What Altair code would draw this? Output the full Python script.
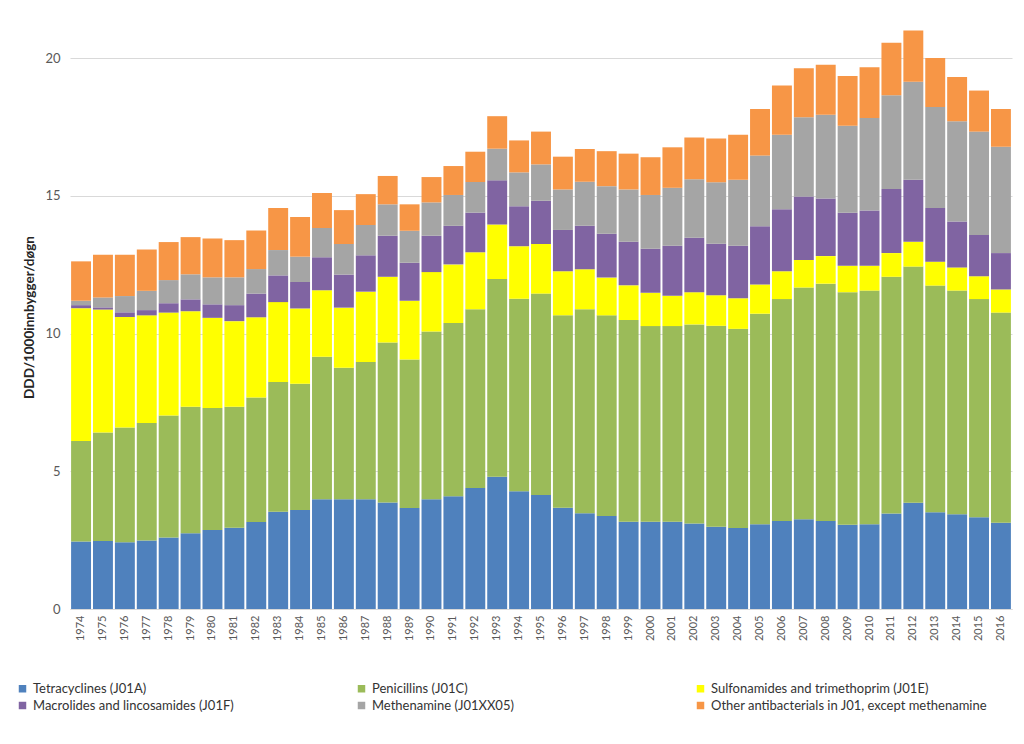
import altair as alt
import pandas as pd

years = list(range(1974, 2017))

tetracyclines = [2.45, 2.47, 2.42, 2.49, 2.60, 2.75, 2.87, 2.95, 3.16, 3.53, 3.59, 3.98, 3.98, 3.98, 3.87,
                 3.67, 3.98, 4.09, 4.39, 4.80, 4.27, 4.14, 3.68, 3.48, 3.38, 3.17, 3.17, 3.17, 3.10, 2.99,
                 2.94, 3.08, 3.19, 3.26, 3.19, 3.06, 3.08, 3.47, 3.86, 3.51, 3.44, 3.33, 3.13]
penicillins = [3.65, 3.94, 4.17, 4.26, 4.42, 4.59, 4.43, 4.39, 4.52, 4.71, 4.59, 5.18, 4.78, 4.99, 5.80,
               5.39, 6.09, 6.29, 6.49, 7.18, 6.99, 7.31, 6.98, 7.40, 7.28, 7.32, 7.10, 7.10, 7.23, 7.29,
               7.23, 7.64, 8.06, 8.41, 8.62, 8.44, 8.48, 8.59, 8.57, 8.23, 8.12, 7.92, 7.63]
sulfonamides = [4.82, 4.46, 4.01, 3.91, 3.74, 3.47, 3.27, 3.11, 2.91, 2.90, 2.73, 2.41, 2.18, 2.55, 2.39,
                2.13, 2.16, 2.13, 2.07, 1.98, 1.91, 1.80, 1.60, 1.45, 1.37, 1.26, 1.21, 1.10, 1.17, 1.11,
                1.11, 1.06, 1.01, 1.00, 1.00, 0.96, 0.90, 0.86, 0.90, 0.87, 0.84, 0.83, 0.84]
macrolides = [0.11, 0.08, 0.17, 0.19, 0.34, 0.43, 0.49, 0.58, 0.86, 0.97, 0.96, 1.20, 1.20, 1.32, 1.49,
              1.38, 1.32, 1.40, 1.44, 1.60, 1.45, 1.57, 1.50, 1.58, 1.59, 1.58, 1.60, 1.82, 1.98, 1.87,
              1.91, 2.11, 2.25, 2.30, 2.09, 1.92, 2.01, 2.33, 2.25, 1.95, 1.67, 1.50, 1.32]
methenamine = [0.16, 0.36, 0.59, 0.70, 0.84, 0.91, 0.98, 1.01, 0.89, 0.92, 0.92, 1.06, 1.11, 1.10, 1.14,
               1.16, 1.21, 1.12, 1.11, 1.15, 1.23, 1.32, 1.47, 1.60, 1.73, 1.90, 1.95, 2.10, 2.12, 2.23,
               2.39, 2.57, 2.71, 2.88, 3.04, 3.16, 3.35, 3.40, 3.56, 3.66, 3.64, 3.75, 3.86]
other = [1.43, 1.55, 1.50, 1.50, 1.38, 1.35, 1.41, 1.35, 1.40, 1.53, 1.44, 1.27, 1.23, 1.12, 1.03,
         0.96, 0.92, 1.05, 1.10, 1.18, 1.16, 1.19, 1.19, 1.19, 1.27, 1.30, 1.37, 1.47, 1.52, 1.59,
         1.64, 1.69, 1.78, 1.78, 1.82, 1.81, 1.85, 1.91, 1.86, 1.78, 1.60, 1.49, 1.37]

series_names = [
    "Tetracyclines (J01A)",
    "Penicillins (J01C)",
    "Sulfonamides and trimethoprim (J01E)",
    "Macrolides and lincosamides (J01F)",
    "Methenamine (J01XX05)",
    "Other antibacterials in J01, except methenamine",
]
series_values = [tetracyclines, penicillins, sulfonamides, macrolides, methenamine, other]
colors = ["#4F81BD", "#9BBB59", "#FFFF00", "#8064A2", "#A5A5A5", "#F79646"]

rows = []
for idx, (name, vals) in enumerate(zip(series_names, series_values)):
    for yr, v in zip(years, vals):
        rows.append({"year": str(yr), "series": name, "value": v, "idx": idx})
df = pd.DataFrame(rows)

chart = alt.Chart(df).mark_bar().encode(
    x=alt.X("year:O",
            scale=alt.Scale(paddingInner=0.09, paddingOuter=0.05),
            axis=alt.Axis(title=None, labelAngle=-90, ticks=False, domainColor="#D9D9D9",
                          labelColor="#595959", labelFontSize=11, labelPadding=6,
                          labelFont="Lato")),
    y=alt.Y("value:Q", stack="zero",
            scale=alt.Scale(domain=[0, 21.2], nice=False),
            axis=alt.Axis(values=[0, 5, 10, 15, 20], title="DDD/1000innbygger/døgn",
                          gridColor="#D9D9D9", domain=False, ticks=False,
                          labelColor="#595959", labelFontSize=13, labelPadding=10,
                          labelFont="Lato", titleFont="Lato",
                          titleFontSize=13.5, titleFontWeight="bold", titleColor="#262626",
                          titlePadding=8)),
    color=alt.Color("series:N",
                    scale=alt.Scale(domain=series_names, range=colors),
                    legend=alt.Legend(title=None, orient="none", legendX=-54, legendY=657,
                                      direction="horizontal",
                                      columns=3, gridAlign="all", columnPadding=45,
                                      rowPadding=3, symbolType="square", symbolSize=56,
                                      symbolStrokeWidth=0, labelFontSize=13,
                                      labelFont="Lato", labelColor="#333333",
                                      labelLimit=400)),
    order=alt.Order("idx:Q", sort="ascending"),
).properties(
    width=942, height=584,
    autosize=alt.AutoSizeParams(type="none"),
    padding={"left": 62, "top": 17, "right": 4, "bottom": 118},
).configure_view(stroke=None)

chart.save("out.html", embed_options={"renderer": "svg", "actions": False})
